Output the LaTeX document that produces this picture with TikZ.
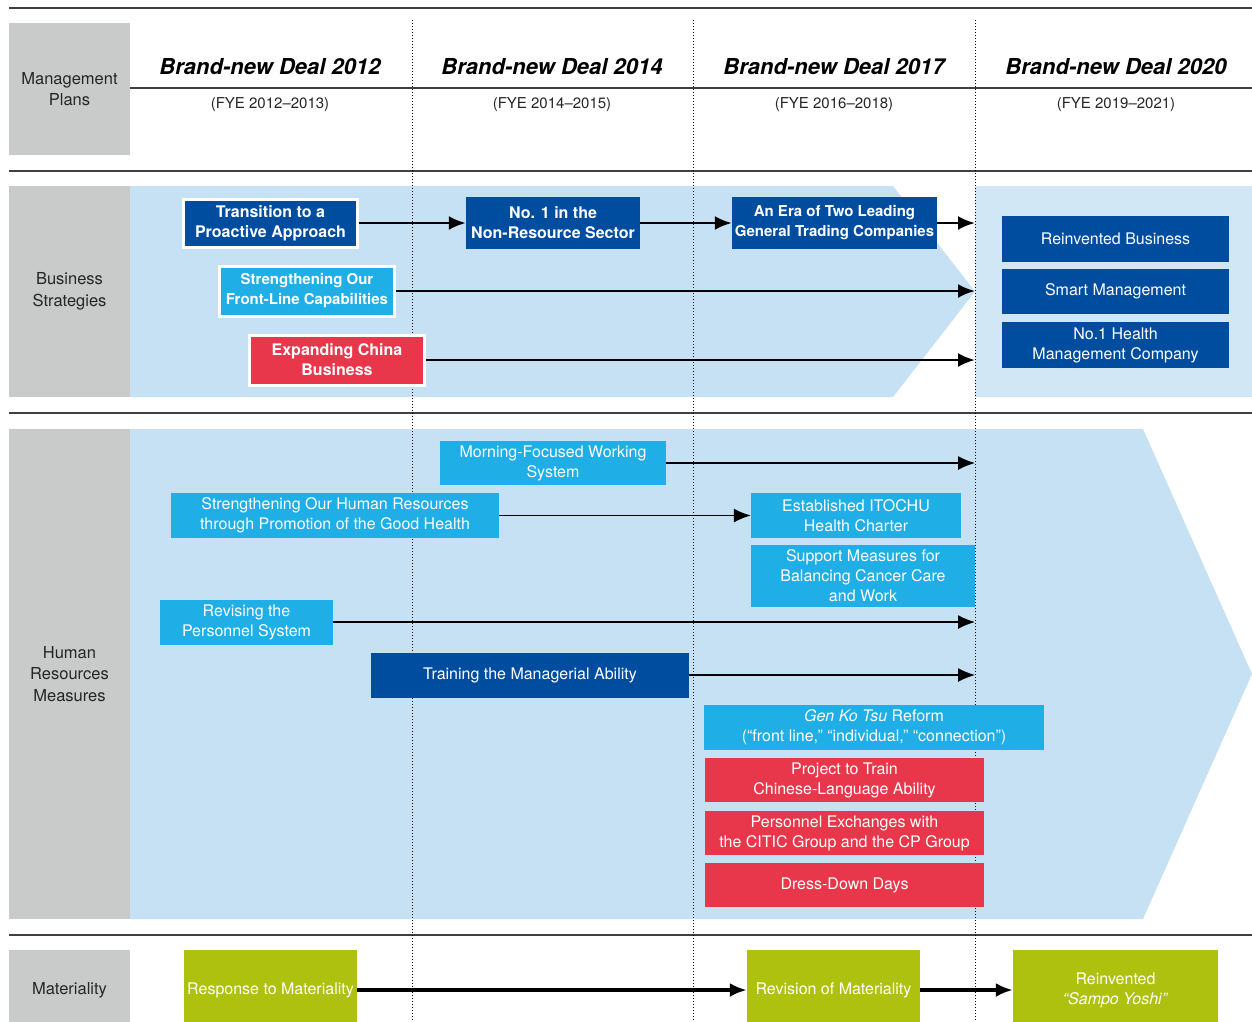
\documentclass[tikz,border=0pt]{standalone}
\usepackage{fontspec}
\setmainfont{TeX Gyre Heros}
\usetikzlibrary{arrows.meta,positioning}

\definecolor{mgray}{HTML}{C9CACA}
\definecolor{ndark}{HTML}{004DA0}
\definecolor{ncyan}{HTML}{1FAEE6}
\definecolor{nred}{HTML}{E8374B}
\definecolor{ngreen}{HTML}{AEC10E}
\definecolor{skyA}{HTML}{C6E1F4}
\definecolor{skyB}{HTML}{D1E7F6}

\tikzset{
>={Latex[length=17pt,width=14pt]},
  rowlabel/.style={
    rectangle,
    fill=mgray,
    minimum width=121pt,
    inner sep=0pt,
    text=black!85,
    align=center,
    font=\fontsize{16.5}{21.5}\selectfont},
  deal/.style={font=\fontsize{22}{26}\selectfont\bfseries\itshape},
  fye/.style={font=\fontsize{15}{18}\selectfont, text=black!85},
  tile/.style={
    rectangle,
    inner sep=0pt,
    text=white,
    align=center,
    font=\fontsize{16}{20}\selectfont},
  darkbox/.style={tile, fill=ndark},
  cyanbox/.style={tile, fill=ncyan},
  redbox/.style={tile, fill=nred},
  greenbox/.style={tile, fill=ngreen},
  framed/.style={draw=white, line width=3pt},
  heavy/.style={font=\fontsize{16}{20}\selectfont\bfseries},
}

\begin{document}
\begin{tikzpicture}[
    x=1pt, y=-1pt,
    hrule/.style={draw=black!75, line width=1.2pt},
    period/.style={draw=black, line width=0.9pt, dash pattern=on 1pt off 2pt},
    bsarrow/.style={->, line width=2.6pt},
    hrarrow/.style={->, line width=1.4pt},
    matarrow/.style={->, line width=3.4pt}
    ]
    \useasboundingbox (0,0) rectangle (1252,1021);
    \clip (0,0) rectangle (1252,1021);

    %backgrounds
    \fill[skyA] (130,186) -- (893,186) -- (975,291.5) -- (893,397) -- (130,397) -- cycle;
    \fill[skyB] (975,186) rectangle (1252,397);
    \fill[skyA] (130,429) -- (1143,429) -- (1252,674) -- (1143,919) -- (130,919) -- cycle;

    %rules
    \draw[hrule] (9,8) -- (1252,8);
    \draw[hrule] (130,88) -- (1252,88);
    \draw[hrule] (9,171) -- (1252,171);
    \draw[hrule] (9,413) -- (1252,413);
    \draw[hrule] (9,935) -- (1252,935);

    %periods
    \draw[period] (412,20) -- (412,1021);
    \draw[period] (693,20) -- (693,1021);
    \draw[period] (975,20) -- (975,1021);

    %row labels
    \node[rowlabel, minimum height=132pt] (mp) at (69.5,89) {Management\\Plans};
    \node[rowlabel, minimum height=211pt] (bs) at (69.5,291.5) {Business\\Strategies};
    \node[rowlabel, minimum height=490pt] (hr) at (69.5,674) {Human\\Resources\\Measures};
    \node[rowlabel, minimum height=80pt] (mat) at (69.5,990) {Materiality};

    %management plans
    \node[deal] (deal12) at (270,67) {Brand-new Deal 2012};
    \node[deal] (deal14) at (552,67) {Brand-new Deal 2014};
    \node[deal] (deal17) at (834,67) {Brand-new Deal 2017};
    \node[deal] (deal20) at (1116,67) {Brand-new Deal 2020};
    \node[fye] (fye12) at (270,105) {(FYE 2012–2013)};
    \node[fye] (fye14) at (552,105) {(FYE 2014–2015)};
    \node[fye] (fye17) at (834,105) {(FYE 2016–2018)};
    \node[fye] (fye20) at (1116,105) {(FYE 2019–2021)};

    %business strategies
    \node[darkbox, framed, heavy, minimum width=174pt, minimum height=48pt] (trans) at (270.5,223) {Transition to a\\Proactive Approach};
    \node[darkbox, heavy, minimum width=174pt, minimum height=52pt] (nores) at (553,223) {No. 1 in the\\Non-Resource Sector};
    \node[darkbox, heavy, minimum width=205pt, minimum height=52pt, font=\fontsize{15}{20}\selectfont\bfseries] (era) at (834.5,223) {An Era of Two Leading\\General Trading Companies};
    \node[cyanbox, framed, heavy, minimum width=175pt, minimum height=50pt, font=\fontsize{15}{20}\selectfont\bfseries] (front) at (307,291) {Strengthening Our\\Front-Line Capabilities};
    \node[redbox, framed, heavy, minimum width=175pt, minimum height=50pt] (china) at (337,360) {Expanding China\\Business};
    \node[darkbox, minimum width=227pt, minimum height=46pt] (reinv) at (1115.5,239) {Reinvented Business};
    \node[darkbox, minimum width=227pt, minimum height=45pt] (smart) at (1115.5,291.5) {Smart Management};
    \node[darkbox, minimum width=227pt, minimum height=46pt] (health) at (1115.5,345) {No.1 Health\\Management Company};
    \coordinate (bsend1) at (975,223);
    \coordinate (bsend2) at (975,291);
    \coordinate (bsend3) at (975,360);

    \draw[bsarrow] (trans) -- (nores);
    \draw[bsarrow] (nores) -- (era);
    \draw[bsarrow] (era) -- (bsend1);
    \draw[bsarrow] (front) -- (bsend2);
    \draw[bsarrow] (china) -- (bsend3);

    %human resources measures
    \node[cyanbox, minimum width=226pt, minimum height=44pt] (morning) at (553,463) {Morning-Focused Working\\System};
    \node[cyanbox, minimum width=328pt, minimum height=45pt] (goodhealth) at (335,515.5) {Strengthening Our Human Resources\\through Promotion of the Good Health};
    \node[cyanbox, minimum width=210pt, minimum height=45pt] (charter) at (856,515.5) {Established ITOCHU\\Health Charter};
    \node[cyanbox, minimum width=224pt, minimum height=62pt] (cancer) at (863,576) {Support Measures for\\Balancing Cancer Care\\and Work};
    \node[cyanbox, minimum width=173pt, minimum height=45pt] (personnel) at (246.5,622) {Revising the\\Personnel System};
    \node[darkbox, minimum width=318pt, minimum height=45pt] (training) at (530,675) {Training the Managerial Ability};
    \node[cyanbox, minimum width=340pt, minimum height=45pt] (genkotsu) at (874,727.5) {\textit{Gen Ko Tsu} Reform\\(“front line,” “individual,” “connection”)};
    \node[redbox, minimum width=279pt, minimum height=44pt] (chinese) at (844.5,780) {Project to Train\\Chinese-Language Ability};
    \node[redbox, minimum width=279pt, minimum height=44pt] (exchange) at (844.5,833) {Personnel Exchanges with\\the CITIC Group and the CP Group};
    \node[redbox, minimum width=279pt, minimum height=44pt] (dressdown) at (844.5,885) {Dress-Down Days};
    \coordinate (hrend1) at (975,463);
    \coordinate (hrend2) at (975,622);
    \coordinate (hrend3) at (975,675);

    \draw[hrarrow] (morning) -- (hrend1);
    \draw[hrarrow] (goodhealth) -- (charter);
    \draw[hrarrow] (personnel) -- (hrend2);
    \draw[hrarrow] (training) -- (hrend3);

    %materiality
    \node[greenbox, minimum width=173pt, minimum height=80pt] (resp) at (270.5,990) {Response to Materiality};
    \node[greenbox, minimum width=173pt, minimum height=80pt] (revis) at (833.5,990) {Revision of Materiality};
    \node[greenbox, minimum width=205pt, minimum height=80pt] (sampo) at (1115.5,990) {Reinvented\\\textit{“Sampo Yoshi”}};

    \draw[matarrow] (resp) -- (revis);
    \draw[matarrow] (revis) -- (sampo);
\end{tikzpicture}
\end{document}
